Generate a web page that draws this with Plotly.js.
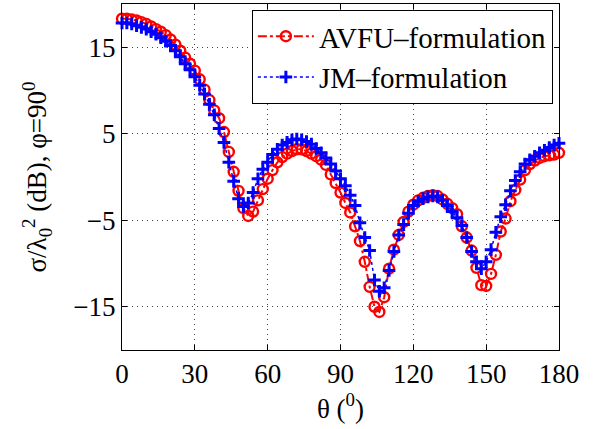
<!DOCTYPE html>
<html>
<head>
<meta charset="utf-8">
<script src="https://cdn.plot.ly/plotly-3.0.1.min.js"></script>
<style>
html,body{margin:0;padding:0;background:#fff;}
#chart{width:594px;height:429px;}
#chart svg text, #chart svg tspan { font-family: 'Liberation Serif' !important; }
</style>
</head>
<body>
<div id="chart"></div>
<script>
const theta = [];
for (let t = 0; t <= 180; t += 2) theta.push(t);

const avfuName = "AVFU\u2013formulation";
const jmName = "JM\u2013formulation";

// AVFU-formulation RCS (dB)
const avfu = [
  18.3, 18.3, 18.2, 18.1, 17.9, 17.7, 17.4, 17.1, 16.8, 16.4,
  15.9, 15.3, 14.6, 13.8, 13.1, 12.3, 11.3, 10.1, 8.9, 7.7,
  6.8, 5.2, 2.9, 0.6, -1.6, -3.6, -4.5, -4.0, -2.7, -1.4,
  -0.2, 0.8, 1.7, 2.3, 2.7, 3.0, 3.2, 3.2, 3.0, 2.7,
  2.4, 2.0, 1.4, 0.3, -0.7, -1.8, -3.0, -4.1, -5.7, -7.4,
  -9.8, -12.7, -15.0, -15.6, -13.9, -10.6, -8.4, -6.7, -5.2, -4.0,
  -3.2, -2.7, -2.4, -2.2, -2.1, -2.2, -2.6, -3.1, -3.6, -4.3,
  -5.7, -7.0, -8.5, -10.5, -12.5, -12.6, -11.2, -9.0, -6.3, -4.8,
  -2.8, -1.5, -0.3, 0.8, 1.5, 1.9, 2.2, 2.4, 2.5, 2.6,
  2.8
];

// JM-formulation RCS (dB)
const jm = [
  17.8, 17.8, 17.7, 17.5, 17.3, 17.1, 16.8, 16.5, 16.1, 15.7,
  15.2, 14.6, 13.9, 13.1, 12.4, 11.6, 10.6, 9.6, 8.4, 7.2,
  5.6, 4.0, 1.7, -0.5, -2.5, -3.4, -3.0, -1.8, -0.2, 0.9,
  1.7, 2.6, 3.2, 3.7, 4.0, 4.3, 4.4, 4.3, 4.1, 3.8,
  3.3, 2.8, 2.2, 1.5, 0.7, -0.2, -1.0, -2.1, -3.3, -5.3,
  -7.0, -8.5, -11.9, -13.2, -12.8, -10.8, -8.6, -6.7, -5.5, -4.2,
  -3.3, -2.8, -2.5, -2.3, -2.2, -2.3, -2.7, -3.3, -4.0, -4.7,
  -5.6, -7.0, -8.6, -9.8, -10.6, -9.8, -8.4, -6.4, -4.6, -3.2,
  -1.6, -0.4, 0.6, 1.5, 2.0, 2.4, 2.8, 3.1, 3.4, 3.7,
  3.9
];

const xTicks = [0, 30, 60, 90, 120, 150, 180];
const yTicks = [-15, -5, 5, 15];

const fontFam = "Liberation Serif";

const traces = [
  {
    x: theta, y: avfu, name: avfuName, type: "scatter", mode: "lines+markers",
    line: {color: "#ff0000", width: 2, dash: "dashdot"},
    marker: {symbol: "circle-open", size: 10, color: "#ff0000", line: {width: 2.4, color: "#ff0000"}},
    cliponaxis: false
  },
  {
    x: theta, y: jm, name: jmName, type: "scatter", mode: "lines+markers",
    line: {color: "#0000ff", width: 1.5, dash: "dot"},
    marker: {symbol: "cross-thin-open", size: 9, color: "#0000ff", line: {width: 3, color: "#0000ff"}},
    cliponaxis: false
  }
];

function axisStyle() {
  return {
    showline: true, linecolor: "#000", linewidth: 1, mirror: "allticks",
    ticks: "inside", ticklen: 5, tickwidth: 1, tickcolor: "#000",
    showgrid: true, gridcolor: "#444", gridwidth: 1, griddash: "1px,4px",
    zeroline: false,
    tickfont: {family: fontFam, size: 27, color: "#000"}
  };
}

const layout = {
  width: 594, height: 429,
  margin: {l: 122, r: 35, t: 4, b: 79},
  font: {family: fontFam, color: "#000"},
  showlegend: true,
  legend: {
    x: 0.986, xanchor: "right", y: 0.983, yanchor: "top",
    bgcolor: "#fff", bordercolor: "#000", borderwidth: 1,
    font: {family: fontFam, size: 29, color: "#000"},
    itemwidth: 56
  },
  xaxis: Object.assign(axisStyle(), {
    range: [0, 180], tickvals: xTicks,
    title: {text: "\u03b8 (<sup>0</sup>)", font: {family: fontFam, size: 27, color: "#000"}, standoff: 4}
  }),
  yaxis: Object.assign(axisStyle(), {
    range: [-20, 20], tickvals: yTicks,
    title: {text: "\u03c3/\u03bb<sub>0</sub><sup>2</sup> (dB), \u03c6=90<sup>0</sup>", font: {family: fontFam, size: 27, color: "#000"}, standoff: 18}
  })
};

Plotly.newPlot("chart", traces, layout, {displayModeBar: false, staticPlot: true});
</script>
</body>
</html>
